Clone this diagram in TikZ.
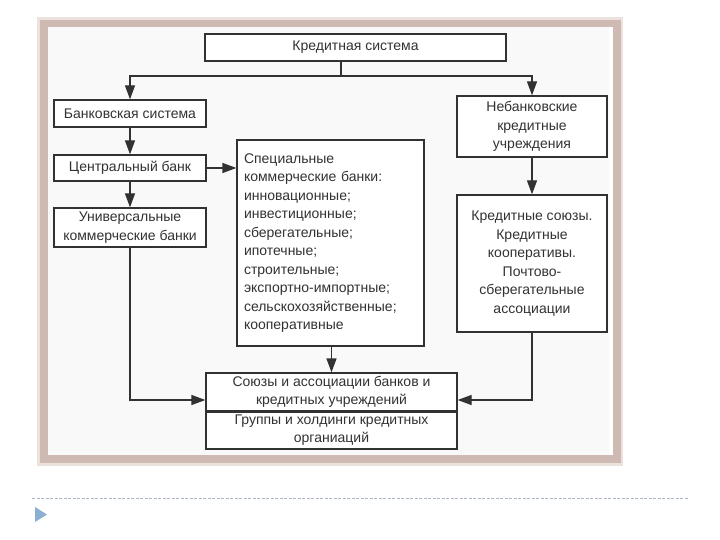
\documentclass[tikz,border=0pt]{standalone}
\usepackage{fontspec}
\setmainfont{Liberation Sans}
\usetikzlibrary{arrows.meta}
\definecolor{linec}{RGB}{50,50,50}
\definecolor{textc}{RGB}{50,50,50}
\definecolor{frameA}{RGB}{235,226,222}
\definecolor{frameB}{RGB}{206,186,179}
\definecolor{innerc}{RGB}{249,249,249}
\definecolor{dashc}{RGB}{170,182,196}
\definecolor{markc}{RGB}{140,175,212}
\tikzset{
  box/.style={draw=linec, line width=1.3pt, fill=white, text=textc,
    font=\fontsize{14}{18.5}\selectfont, align=center, inner sep=0pt},
  conn/.style={draw=linec, line width=1.3pt},
  arr/.style={conn, -{Triangle[length=14pt,width=10pt]}},
}
\begin{document}
\begin{tikzpicture}[x=1pt,y=-1pt]
\useasboundingbox (0,0) rectangle (720,540);
% frame
\fill[frameA] (37,17) rectangle (623,466);
\fill[frameB] (40,20) rectangle (621,463);
\fill[innerc] (48,27) rectangle (613,455);
\fill[white] (609,27) rectangle (613,455);
% nodes
\node[box, minimum width=301pt, minimum height=27pt] (kred) at (355.5,47.5) {Кредитная система};
\node[box, minimum width=152pt, minimum height=27pt] (bank) at (130,113.5) {Банковская система};
\node[box, minimum width=152pt, minimum height=26pt] (central) at (130,168) {Центральный банк};
\node[box, minimum width=152pt, minimum height=39pt] (univ) at (130,227.5) {Универсальные\\коммерческие банки};
\node[box, minimum width=187pt, minimum height=206pt, text width=173pt, align=left] (spec) at (330.5,243) {Специальные\\коммерческие банки:\\инновационные;\\инвестиционные;\\сберегательные;\\ипотечные;\\строительные;\\экспортно-импортные;\\сельскохозяйственные;\\кооперативные};
\node[box, minimum width=150pt, minimum height=61pt] (nebank) at (532,126.5) {Небанковские\\кредитные\\учреждения};
\node[box, minimum width=150pt, minimum height=137pt] (kredsouz) at (532,263.5) {Кредитные союзы.\\Кредитные\\кооперативы.\\Почтово-\\сберегательные\\ассоциации};
\node[box, minimum width=251pt, minimum height=38pt] (souz) at (331.5,392) {Союзы и ассоциации банков и\\кредитных учреждений};
\node[box, minimum width=251pt, minimum height=38pt] (grup) at (331.5,430) {Группы и холдинги кредитных\\органиаций};
\draw[conn, line width=2.6pt] (souz.south west) -- (souz.south east);
% connectors
\coordinate (split) at (341,76);
\coordinate (lb) at (130,400);
\coordinate (rb) at (532,400);
\draw[conn] (kred.south -| split) -- (split);
\draw[arr] (split) -| (bank.north);
\draw[arr] (split) -| (nebank.north);
\draw[arr] (bank) -- (central);
\draw[arr] (central) -- (univ);
\draw[arr] (central.east) -- (spec.west |- central.east);
\draw[arr] (spec.south -| souz.north) -- (souz.north);
\draw[arr] (nebank) -- (kredsouz);
\draw[arr] (univ.south) -- (lb) -- (souz.west |- lb);
\draw[arr] (kredsouz.south) -- (rb) -- (souz.east |- rb);
% footer
\draw[dashc, line width=1pt, dash pattern=on 3pt off 1.5pt] (32,498.5) -- (688,498.5);
\fill[markc] (35,507) -- (47,514.5) -- (35,522) -- cycle;
\end{tikzpicture}
\end{document}
